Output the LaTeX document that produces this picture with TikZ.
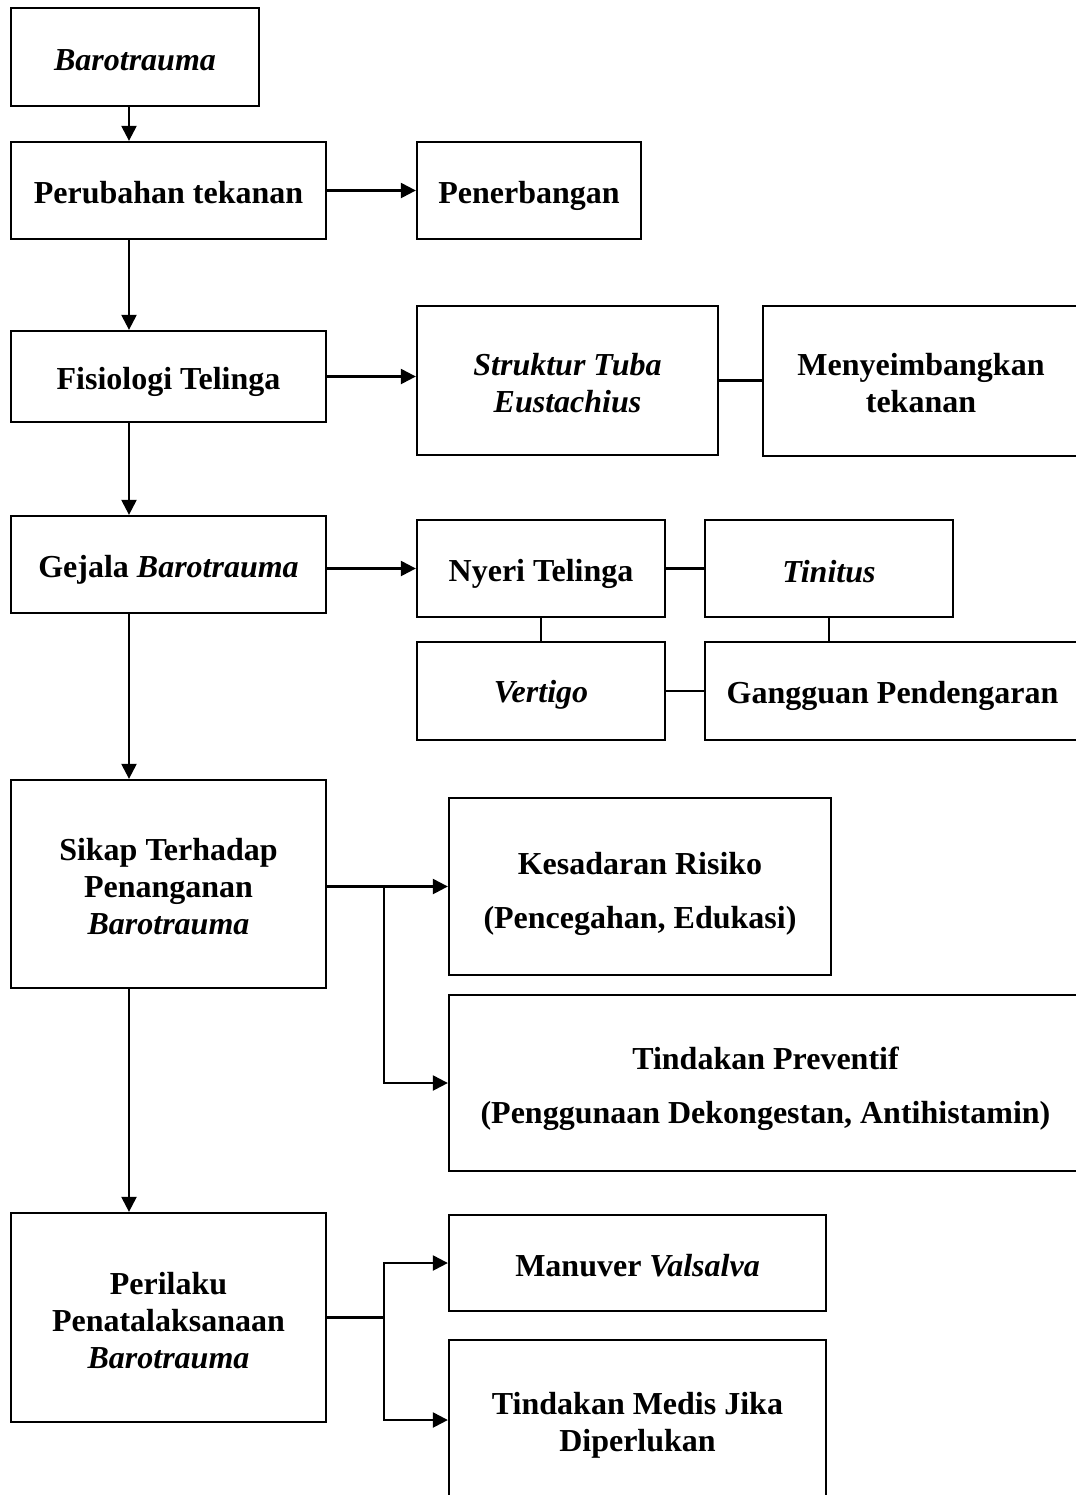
\documentclass[tikz,border=0pt]{standalone}
\usepackage{fontspec}
\setmainfont{Liberation Serif}
\usetikzlibrary{arrows.meta}
\tikzset{
  bx/.style={draw, line width=1.15pt, rectangle, inner sep=0pt},
  txt/.style={inner sep=0pt, align=center,
    font=\fontsize{16}{18.5}\selectfont\bfseries},
  arr/.style={line width=1.15pt, -{Triangle[length=7.5pt,width=7.5pt]}},
  ln/.style={line width=1.15pt}
}
% name, x1, y1, x2, y2, text shift (px, downwards), text
\newcommand\bxnode[7]{%
  \node[bx, minimum width={(#4-#2)*0.5pt}, minimum height={(#5-#3)*0.5pt}] (#1) at ({(#2+#4)/2},{(#3+#5)/2}) {};
  \node[txt] (#1-t) at ([yshift={-(#6)*0.5pt}]#1.center) {#7};}
\begin{document}
\begin{tikzpicture}[x=0.5pt,y=-0.5pt]
\useasboundingbox (0,0) rectangle (1076,1495);
\clip (0,0) rectangle (1076,1495);
\coordinate (tx) at (129,0);
\coordinate (bx) at (384,0);
\bxnode{baro}{11}{8}{259}{106}{3}{\textit{Barotrauma}}
\bxnode{peru}{11}{142}{326}{239}{2}{Perubahan tekanan}
\bxnode{pen}{417}{142}{641}{239}{5}{Penerbangan}
\bxnode{fis}{11}{331}{326}{422}{5}{Fisiologi Telinga}
\bxnode{stk}{417}{306}{718}{455}{3}{\textit{Struktur Tuba}\\\textit{Eustachius}}
\bxnode{men}{763}{306}{1079}{456}{2}{Menyeimbangkan\\tekanan}
\bxnode{gej}{11}{516}{326}{613}{5}{Gejala \textit{Barotrauma}}
\bxnode{nye}{417}{520}{665}{617}{5}{Nyeri Telinga}
\bxnode{tin}{705}{520}{953}{617}{3}{\textit{Tinitus}}
\bxnode{ver}{417}{642}{665}{740}{4}{\textit{Vertigo}}
\bxnode{gan}{705}{642}{1080}{740}{5}{Gangguan Pendengaran}
\bxnode{sik}{11}{780}{326}{988}{3}{Sikap Terhadap\\Penanganan\\\textit{Barotrauma}}
\bxnode{kes}{449}{798}{831}{975}{7}{Kesadaran Risiko\\[8.5pt](Pencegahan, Edukasi)}
\bxnode{pre}{449}{995}{1082}{1171}{6}{Tindakan Preventif\\[8.5pt](Penggunaan Dekongestan, Antihistamin)}
\bxnode{per}{11}{1213}{326}{1422}{3.5}{Perilaku\\Penatalaksanaan\\\textit{Barotrauma}}
\bxnode{man}{449}{1215}{826}{1311}{3}{Manuver \textit{Valsalva}}
\bxnode{med}{449}{1340}{826}{1500}{5}{Tindakan Medis Jika\\Diperlukan}
% trunk arrows
\draw[arr] (baro.south -| tx) -- (peru.north -| tx);
\draw[arr] (peru.south -| tx) -- (fis.north -| tx);
\draw[arr] (fis.south -| tx) -- (gej.north -| tx);
\draw[arr] (gej.south -| tx) -- (sik.north -| tx);
\draw[arr] (sik.south -| tx) -- (per.north -| tx);
% side arrows
\draw[arr] (peru.east) -- (pen.west);
\draw[arr] (fis.east) -- (fis.east -| stk.west);
\draw[arr] (gej.east |- nye.west) -- (nye.west);
% plain connectors
\draw[ln] (stk.east) -- (stk.east -| men.west);
\draw[ln] (nye.east) -- (tin.west);
\draw[ln] (nye.south) -- (nye.south |- ver.north);
\draw[ln] (tin.south) -- (tin.south |- gan.north);
\draw[ln] (ver.east) -- (ver.east -| gan.west);
% sikap branches
\draw[arr] (sik.east |- kes.west) -- (kes.west);
\draw[arr] (bx |- kes.west) |- (pre.west);
% perilaku branches
\draw[ln] (per.east) -- (bx |- per.east);
\draw[arr] (bx |- per.east) |- (man.west);
\draw[arr] (bx |- per.east) |- (med.west);
\end{tikzpicture}
\end{document}
